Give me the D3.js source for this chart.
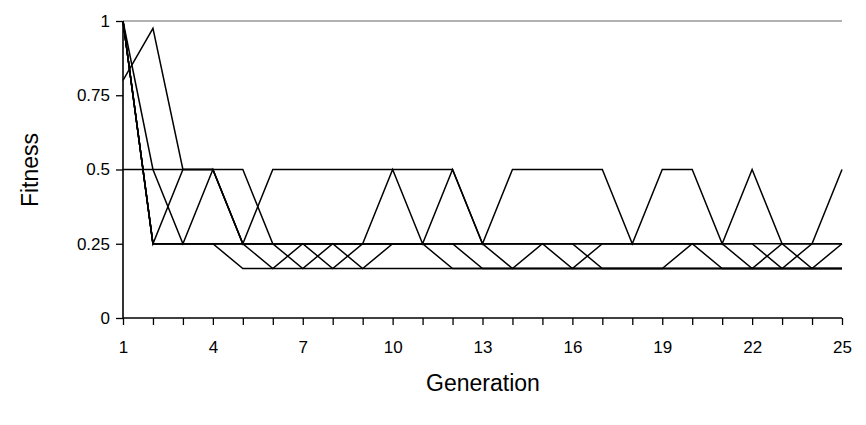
<!DOCTYPE html>
<html>
<head>
<meta charset="utf-8">
<script src="https://cdn.jsdelivr.net/npm/d3@7"></script>
<style>
  body { margin: 0; background: #fff; }
  svg text { font-family: "Liberation Sans", Arial, sans-serif; fill: #000; }
</style>
</head>
<body>
<div id="chart"></div>
<script>
// generations 1..25
var generations = d3.range(1, 26);

// fitness of each run, one value per generation
var H = 0.5, M = 0.25, L = 1 / 6;
var run1 = [0.8, 0.975, H, H, M, M, M, M, M, H, M, H, M, H, H, H, H, M, H, H, M, H, M, M, H];
var run2 = [H, H, H, H, H, M, L, M, L, M, M, L, L, L, M, L, M, M, M, M, M, L, M, L, M];
var run3 = [1, H, M, H, M, H, H, H, H, H, H, H, M, L, L, L, L, L, L, M, L, L, L, L, L];
var run4 = [1, M, H, H, M, L, M, L, M, M, M, M, L, L, L, L, L, L, L, L, L, L, L, L, L];
var run5 = [1, M, M, M, L, L, L, L, L, L, L, L, L, L, L, L, L, L, L, L, L, L, L, L, L];
var run6 = [1, M, M, M, M, M, M, M, M, M, M, M, M, M, M, M, L, L, L, L, L, L, L, L, L];
var run7 = [1, M, M, M, M, M, M, M, M, M, M, M, M, M, M, M, M, M, M, M, M, M, M, M, M];
var run8 = [1, M, M, M, M, M, M, M, M, M, M, M, M, M, M, M, M, M, M, M, M, M, L, M, M];
var runs = [run1, run2, run3, run4, run5, run6, run7, run8];

var yTicks = [0, 0.25, 0.5, 0.75, 1];
var xLabels = [1, 4, 7, 10, 13, 16, 19, 22, 25];

var width = 866, height = 425;
var plotLeft = 123, plotRight = 842, plotTop = 21, plotBottom = 318;

var svg = d3.select("#chart").append("svg")
    .attr("width", width)
    .attr("height", height);

var x = d3.scaleLinear().domain([1, 25]).range([plotLeft, plotRight]);
var y = d3.scaleLinear().domain([0, 1]).range([plotBottom, plotTop]);

// gray line at the top of the plot
svg.append("line")
    .attr("x1", x(1)).attr("x2", x(25))
    .attr("y1", y(1)).attr("y2", y(1))
    .attr("stroke", "#999").attr("stroke-width", 1.3);

// y axis
var yAxis = svg.append("g")
    .attr("transform", "translate(" + plotLeft + ",0)")
    .call(d3.axisLeft(y).tickValues(yTicks).tickSize(7).tickPadding(6)
        .tickFormat(function(d) { return d3.format("")(d); }));

// x axis, tick at every generation, label every third
var xAxis = svg.append("g")
    .attr("transform", "translate(0," + plotBottom + ")")
    .call(d3.axisBottom(x).tickValues(generations).tickSize(7).tickPadding(16)
        .tickFormat(function(d) { return xLabels.indexOf(d) >= 0 ? d : ""; }));

[yAxis, xAxis].forEach(function(g) {
    g.select(".domain").attr("stroke", "#000").attr("stroke-width", 1.6);
    g.selectAll(".tick line").attr("stroke", "#000").attr("stroke-width", 1.3);
    g.selectAll(".tick text").attr("font-size", 17)
        .attr("font-family", "Liberation Sans, Arial, sans-serif").attr("fill", "#000");
});
yAxis.select(".domain").attr("d", "M0," + plotTop + "V" + plotBottom);
xAxis.select(".domain").attr("d", "M" + plotLeft + ",0H" + plotRight);

// runs
var line = d3.line()
    .x(function(d, i) { return x(generations[i]); })
    .y(function(d) { return y(d); });

svg.selectAll(".run")
    .data(runs)
    .enter()
    .append("path")
    .attr("class", "run")
    .attr("d", line)
    .attr("fill", "none")
    .attr("stroke", "#000")
    .attr("stroke-width", 1.5);

// titres des axes
svg.append("text")
    .attr("x", 483).attr("y", 391)
    .attr("text-anchor", "middle")
    .attr("font-size", 23)
    .text("Generation");

svg.append("text")
    .attr("transform", "translate(38,170) rotate(-90)")
    .attr("text-anchor", "middle")
    .attr("font-size", 23)
    .text("Fitness");
</script>
</body>
</html>
